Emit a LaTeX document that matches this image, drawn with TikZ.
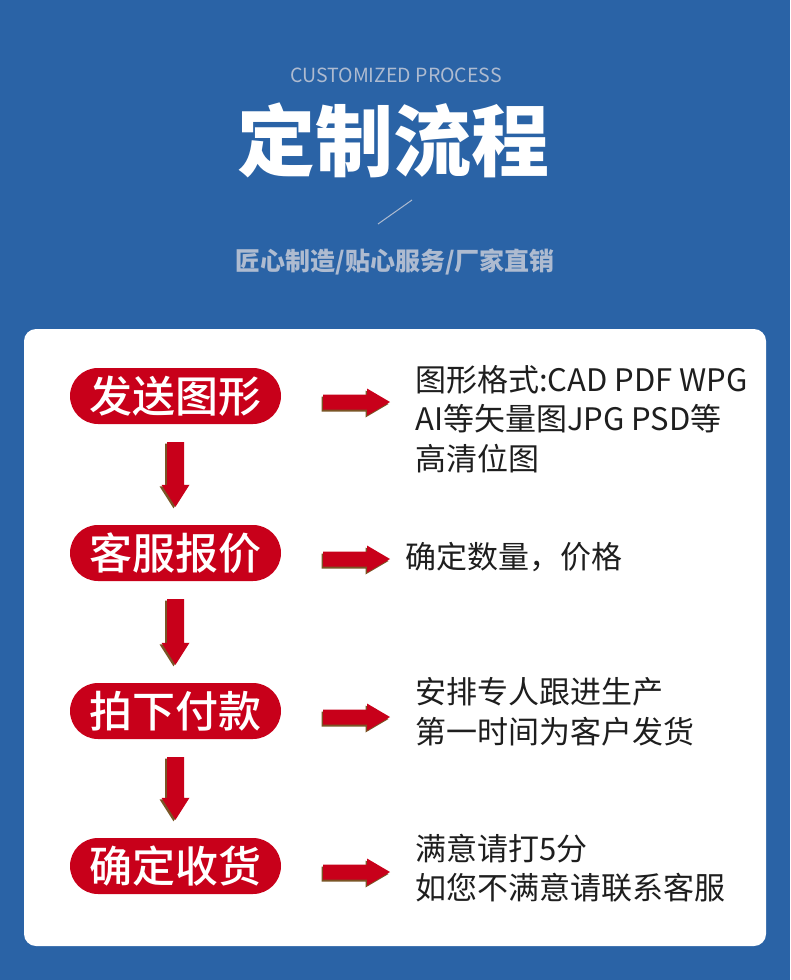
\documentclass[tikz,border=0pt]{standalone}
\usepackage{fontspec}
\usetikzlibrary{positioning,calc}
\newfontfamily\cjk{Noto Sans CJK SC}
\newfontfamily\cjkmed{Noto Sans CJK SC Medium}
\definecolor{bgblue}{HTML}{2A63A6}
\definecolor{stepred}{HTML}{C8001A}
\definecolor{arrshade}{HTML}{7A5526}
\definecolor{subgray}{HTML}{AEBBD0}
\definecolor{bodytext}{HTML}{1E1E1E}
\tikzset{
  pill/.style={fill=stepred,rounded corners=28pt,minimum width=211pt,minimum height=56pt,inner sep=0pt,text=white,font=\cjkmed\fontsize{43}{43}\selectfont},
  note/.style={anchor=west,align=left,inner sep=0pt,text=bodytext,font=\cjk\fontsize{31}{39.5}\selectfont},
  slashline/.style={line width=1pt,draw=subgray}
}

\begin{document}
\begin{tikzpicture}[x=1pt,y=-1pt]
  \useasboundingbox (0,0) rectangle (790,980);
  \fill[bgblue] (0,0) rectangle (790,980);
  \fill[white,rounded corners=12pt] (24,329) rectangle (766,946);
  % heading
  \node[text=subgray,font=\cjk\fontsize{19.5}{19.5}\selectfont] (en) at (396,75) {CUSTOMIZED PROCESS};
  \node[text=white,font=\cjk\bfseries\fontsize{78}{78}\selectfont] (title) at (393,140) {定制流程};
  \draw[slashline] (378,224) -- (412,200);
  \node[text=subgray,font=\cjk\bfseries\fontsize{25}{25}\selectfont] (motto) at (395,262) {匠心制造/贴心服务/厂家直销};
  % steps
  \foreach \i/\y/\lbl in {1/396/发送图形,2/553/客服报价,3/711/拍下付款,4/866/确定收货}{
    \node[pill] (s\i) at (175.5,\y) {\lbl};
    \coordinate (r\i) at (323,\y+6);
    \coordinate (t\i) at (390,\y+6);
    \foreach \dx/\dy/\col in {-1.5/2/arrshade,0/0/stepred}{
      \fill[\col] ($(r\i)+(\dx,-7.5+\dy)$) -- ($(t\i)+(-23+\dx,-7.5+\dy)$) -- ($(t\i)+(-23+\dx,-13.5+\dy)$)
        -- ($(t\i)+(\dx,\dy)$) -- ($(t\i)+(-23+\dx,13.5+\dy)$) -- ($(t\i)+(-23+\dx,7.5+\dy)$)
        -- ($(r\i)+(\dx,7.5+\dy)$) -- cycle;
    }
  }
  \node[note] (n1) at (415,419) {图形格式:CAD PDF WPG\\AI等矢量图JPG PSD等\\高清位图};
  \node[note] (n2) at (405,557) {确定数量，价格};
  \node[note] (n3) at (415,712) {安排专人跟进生产\\第一时间为客户发货};
  \node[note] (n4) at (415,868) {满意请打5分\\如您不满意请联系客服};
  % down arrows
  \foreach \a/\b in {s1/s2,s2/s3,s3/s4}{
    \coordinate (top) at ($(\a.south)+(0,18)$);
    \coordinate (tip) at ($(\b.north)+(0,-18)$);
    \foreach \dx/\dy/\col in {-2/1.5/arrshade,0/0/stepred}{
      \fill[\col] ($(top)+(-8.5+\dx,\dy)$) -- ($(top)+(8.5+\dx,\dy)$) -- ($(tip)+(8.5+\dx,-22+\dy)$)
        -- ($(tip)+(14+\dx,-22+\dy)$) -- ($(tip)+(\dx,\dy)$) -- ($(tip)+(-14+\dx,-22+\dy)$)
        -- ($(tip)+(-8.5+\dx,-22+\dy)$) -- cycle;
    }
  }
\end{tikzpicture}
\end{document}
